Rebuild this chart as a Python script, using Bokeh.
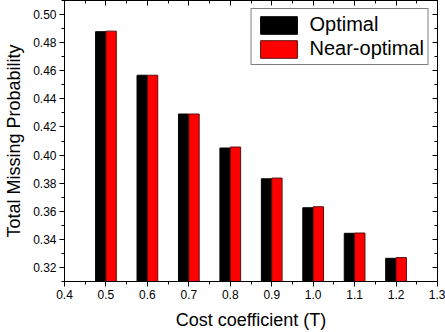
from bokeh.plotting import figure
from bokeh.models import (ColumnDataSource, Range1d, LinearAxis, FixedTicker,
                          PrintfTickFormatter, Legend, LegendItem)
from bokeh.transform import dodge
from bokeh.embed import file_html
from bokeh.resources import INLINE

cost = [0.5, 0.6, 0.7, 0.8, 0.9, 1.0, 1.1, 1.2]
optimal = [0.4878, 0.4568, 0.4292, 0.4050, 0.3831, 0.3625, 0.3443, 0.3265]
near_optimal = [0.4882, 0.4568, 0.4292, 0.4057, 0.3836, 0.3632, 0.3445, 0.3270]
x_ticks = [0.4, 0.5, 0.6, 0.7, 0.8, 0.9, 1.0, 1.1, 1.2, 1.3]
y_ticks = [0.32, 0.34, 0.36, 0.38, 0.40, 0.42, 0.44, 0.46, 0.48, 0.50]

src = ColumnDataSource(dict(x=cost, opt=optimal, near=near_optimal))

FONT = "Liberation Sans"
p = figure(width=445, height=332, output_backend="svg", toolbar_location=None,
           x_range=Range1d(0.4, 1.3), y_range=Range1d(0.31, 0.51),
           min_border_left=64, min_border_right=8, min_border_top=0,
           min_border_bottom=51, outline_line_color="black", outline_line_width=1)
p.grid.visible = False
p.background_fill_color = "white"
p.border_fill_color = "white"

r1 = p.vbar(x=dodge('x', -0.0125, range=p.x_range), top='opt', bottom=0.0, width=0.025,
            source=src, fill_color="black", line_color="black", line_width=1)
r2 = p.vbar(x=dodge('x', 0.0125, range=p.x_range), top='near', bottom=0.0, width=0.025,
            source=src, fill_color="#ff0000", line_color="#5a1010", line_width=1)

xt = FixedTicker(ticks=x_ticks, minor_ticks=[0.45, 0.55, 0.65, 0.75, 0.85, 0.95, 1.05, 1.15, 1.25])
yt = FixedTicker(ticks=y_ticks, minor_ticks=[0.31, 0.33, 0.35, 0.37, 0.39, 0.41, 0.43, 0.45, 0.47, 0.49, 0.51])

for ax, t, fmt in ((p.xaxis[0], xt, "%.1f"), (p.yaxis[0], yt, "%.2f")):
    ax.ticker = t
    ax.formatter = PrintfTickFormatter(format=fmt)
    ax.major_label_text_font = FONT
    ax.major_label_text_font_size = "12px"
    ax.major_label_text_color = "black"
    ax.axis_label_text_font = FONT
    ax.axis_label_text_font_size = "18px"
    ax.axis_label_text_font_style = "normal"
    ax.axis_label_text_color = "black"
    ax.axis_line_color = "black"
    ax.major_tick_line_color = "black"
    ax.minor_tick_line_color = "black"
    ax.major_tick_out = 5
    ax.major_tick_in = 0
    ax.minor_tick_out = 3
    ax.minor_tick_in = 0
    ax.major_label_standoff = 3

p.xaxis[0].axis_label = "Cost coefficient (T)"
p.xaxis[0].axis_label_standoff = 8
p.yaxis[0].axis_label = "Total Missing Probability"
p.yaxis[0].axis_label_standoff = 6

for loc, t, ticks in (("above", xt, x_ticks), ("right", yt, y_ticks)):
    a = LinearAxis(ticker=t)
    a.major_label_overrides = {tk: "" for tk in ticks}
    a.major_label_text_font_size = "1px"
    a.major_label_standoff = 0
    a.major_tick_in = 5
    a.major_tick_out = 0
    a.minor_tick_in = 3
    a.minor_tick_out = 0
    a.axis_line_color = "black"
    a.major_tick_line_color = "black"
    a.minor_tick_line_color = "black"
    p.add_layout(a, loc)

legend = Legend(items=[LegendItem(label="Optimal", renderers=[r1]),
                       LegendItem(label="Near-optimal", renderers=[r2])],
                location="top_right", margin=8, padding=4, spacing=1,
                glyph_width=46, glyph_height=22, label_standoff=8,
                label_text_font=FONT, label_text_font_size="20px",
                label_text_color="black", border_line_color="black",
                border_line_width=1, background_fill_alpha=1.0)
p.add_layout(legend)

open("out.html", "w").write(file_html(p, INLINE))
